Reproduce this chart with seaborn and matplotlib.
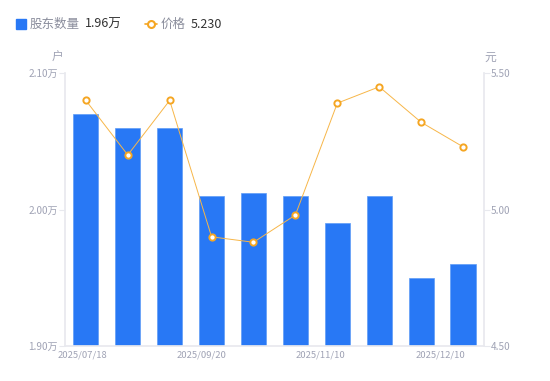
import pandas as pd
import seaborn as sns
import matplotlib.pyplot as plt

holders = [2.07, 2.06, 2.06, 2.01, 2.012, 2.01, 1.99, 2.01, 1.95, 1.96]
price = [5.40, 5.20, 5.40, 4.90, 4.88, 4.98, 5.39, 5.45, 5.32, 5.23]
date_labels = ['2025/07/18', '2025/09/20', '2025/11/10', '2025/12/10']
left_ticks = [1.90, 2.00, 2.10]
right_ticks = [4.50, 5.00, 5.50]

df = pd.DataFrame({'idx': range(len(holders)), 'holders': holders, 'price': price})

sns.set_theme(style="white")
plt.rcParams['font.family'] = ['Noto Sans CJK SC', 'DejaVu Sans']

blue = '#2878f5'
orange = '#f5a623'
grey = '#a0a3b5'
spine = '#e8e9ee'

fig = plt.figure(figsize=(5.5, 3.81), dpi=100)
ax = fig.add_axes([0.118, 0.092, 0.762, 0.716])
sns.barplot(data=df, x='idx', y='holders', color=blue, width=0.6, ax=ax,
            saturation=1, edgecolor='#5e9cf7', linewidth=0.5)
ax.set_ylim(1.90, 2.10)
ax.set_xlim(-0.5, len(holders) - 0.5)
ax.set_yticks(left_ticks)
ax.set_yticklabels([f'{v:.2f}万' for v in left_ticks])
ax.set_xlabel('')
ax.set_ylabel('')

ax2 = ax.twinx()
sns.lineplot(data=df, x='idx', y='price', color='#f7b648', linewidth=0.7, ax=ax2,
             marker='o', markersize=4.5, markerfacecolor='white',
             markeredgecolor=orange, markeredgewidth=1.4)
ax2.set_ylim(4.50, 5.50)
ax2.set_yticks(right_ticks)
ax2.set_yticklabels([f'{v:.2f}' for v in right_ticks])
ax2.set_xlabel('')
ax2.set_ylabel('')

ax.set_xticks([-0.09, 2.75, 5.59, 8.45])
ax.set_xticklabels(date_labels)

for a in (ax, ax2):
    for s in a.spines.values():
        s.set_visible(False)
    a.tick_params(colors=grey, labelsize=7.2, length=4, width=0.8, color=spine, pad=1)
ax.spines['left'].set_visible(True)
ax.spines['left'].set_color(spine)
ax.spines['bottom'].set_visible(True)
ax.spines['bottom'].set_color(spine)
ax2.spines['right'].set_visible(True)
ax2.spines['right'].set_color(spine)
ax.tick_params(axis='x', length=0, pad=3, labelsize=6.8)
ax2.tick_params(axis='x', length=0)

fig.text(58 / 550, 1 - 57 / 381, '户', color=grey, fontsize=8.5, ha='center', va='center')
fig.text(490 / 550, 1 - 57 / 381, '元', color=grey, fontsize=8.5, ha='center', va='center')

# legend
ly = 1 - 24 / 381
fig.patches.append(plt.Rectangle((16 / 550, 1 - 29 / 381), 10 / 550, 10 / 381,
                                 transform=fig.transFigure, color=blue, figure=fig))
fig.text(30 / 550, ly, '股东数量', color='#8a8d9c', fontsize=9, va='center')
fig.text(85 / 550, ly, '1.96万', color='#333333', fontsize=9, va='center')
fig.lines.append(plt.Line2D([145 / 550, 157 / 550], [ly, ly], transform=fig.transFigure,
                            color=orange, linewidth=1.2, figure=fig))
fig.lines.append(plt.Line2D([151 / 550], [ly], transform=fig.transFigure,
                            color=orange, marker='o', markersize=5, markerfacecolor='white',
                            markeredgewidth=1.5, figure=fig))
fig.text(161 / 550, ly, '价格', color='#8a8d9c', fontsize=9, va='center')
fig.text(191 / 550, ly, '5.230', color='#333333', fontsize=9, va='center')

fig.savefig('out.png', dpi=100)
